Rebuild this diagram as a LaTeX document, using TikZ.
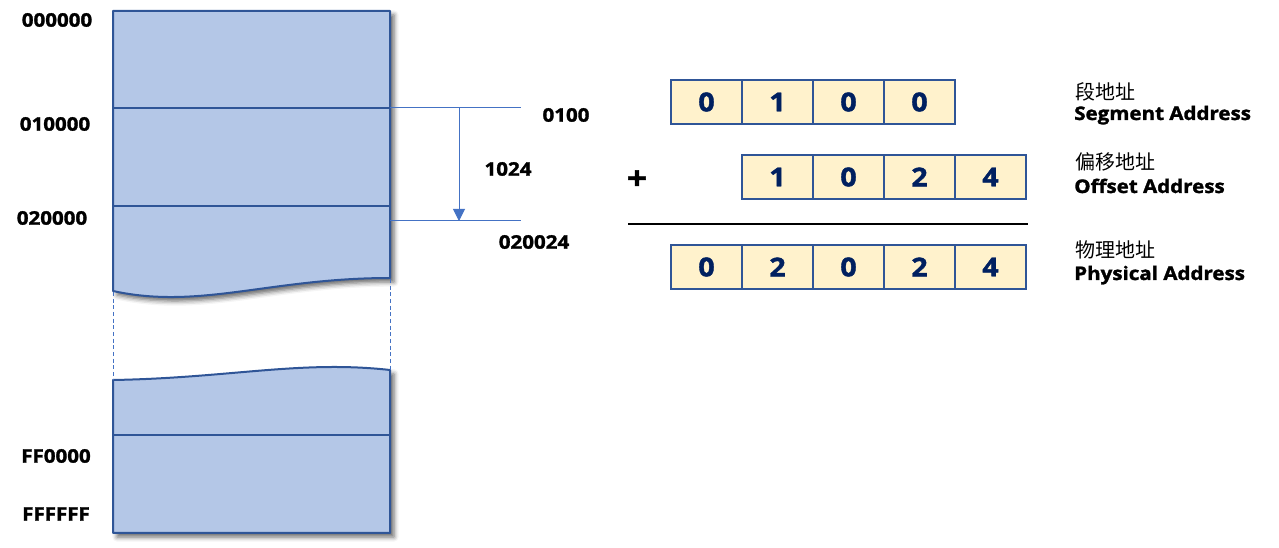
\documentclass[tikz,border=0pt]{standalone}
\usepackage{fontspec}
\setmainfont{Open Sans}[FakeStretch=1.1, BoldFeatures={FakeBold=1.6}]
\newfontfamily\cjk{Noto Sans CJK SC}
\usetikzlibrary{arrows.meta,shadows.blur}
\definecolor{blockfill}{HTML}{B4C7E7}
\definecolor{blockline}{HTML}{2F5597}
\definecolor{guideblue}{HTML}{4472C4}
\definecolor{cellfill}{HTML}{FFF2CC}
\definecolor{digitblue}{HTML}{002060}
\begin{document}
\begin{tikzpicture}[x=0.75pt,y=-0.75pt,
  block/.style={draw=blockline, line width=1.5pt, fill=blockfill, line join=round},
  blockshadow/.style={blur shadow={shadow xshift=3pt, shadow yshift=-3pt, shadow blur radius=3.5pt, shadow opacity=60}},
  divider/.style={draw=blockline, line width=1.5pt},
  guide/.style={draw=guideblue, line width=0.75pt},
  dashguide/.style={draw=guideblue, line width=0.75pt, dash pattern=on 3pt off 2pt},
  cell/.style={draw=blockline, line width=1.5pt, fill=cellfill, minimum width=53.25pt, minimum height=33pt, inner sep=0pt, font=\fontsize{19.5}{19.5}\selectfont\bfseries, text=digitblue},
  addr/.style={font=\fontsize{14}{14}\selectfont\bfseries, inner sep=0pt},
  cn/.style={font=\cjk\fontsize{15}{15}\selectfont, inner sep=0pt, anchor=west},
  en/.style={font=\fontsize{14}{14}\selectfont\bfseries, inner sep=0pt, anchor=base west}
]
\useasboundingbox (0,0) rectangle (1279,548);

% memory blocks
\path[block, blockshadow] (113,11) -- (390,11) -- (390,278) .. controls (270,278) and (200,310) .. (113,291) -- cycle;
\draw[divider] (113,108) -- (390,108);
\draw[divider] (113,206) -- (390,206);

\path[block, blockshadow] (113,380) .. controls (230,378) and (300,360) .. (390,370) -- (390,533) -- (113,533) -- cycle;
\draw[divider] (113,435) -- (390,435);

\coordinate (dl1) at (113,292);
\coordinate (dl2) at (113,380);
\coordinate (dr1) at (390,279);
\coordinate (dr2) at (390,370);
\draw[dashguide] (dl1) -- (dl2);
\draw[dashguide] (dr1) -- (dr2);

% address labels on the left
\node[addr] (a0) at (57,20) {000000};
\node[addr] (a1) at (55,124) {010000};
\node[addr] (a2) at (52,218) {020000};
\node[addr] (a3) at (56,456) {FF0000};
\node[addr] (a4) at (56,514) {FFFFFF};

% offset guides
\coordinate (segR) at (390,108);
\coordinate (segE) at (521,108);
\coordinate (offR) at (390,221);
\coordinate (offE) at (521,221);
\coordinate (arrS) at (459,108);
\coordinate (arrE) at (459,221);
\draw[guide] (segR) -- (segE);
\draw[guide] (offR) -- (offE);
\draw[guide, -{Triangle[width=9pt,length=9pt]}, fill=guideblue] (arrS) -- (arrE);

\node[addr] (l0100) at (566,115) {0100};
\node[addr] (l1024) at (508,169) {1024};
\node[addr] (l020024) at (534,242) {020024};

% segment row
\node[cell] (s1) at (706.5,102) {0};
\node[cell] (s2) at (777.5,102) {1};
\node[cell] (s3) at (848.5,102) {0};
\node[cell] (s4) at (919.5,102) {0};

% offset row
\node[cell] (o1) at (777.5,177) {1};
\node[cell] (o2) at (848.5,177) {0};
\node[cell] (o3) at (919.5,177) {2};
\node[cell] (o4) at (990.5,177) {4};

% physical row
\node[cell] (p1) at (706.5,267) {0};
\node[cell] (p2) at (777.5,267) {2};
\node[cell] (p3) at (848.5,267) {0};
\node[cell] (p4) at (919.5,267) {2};
\node[cell] (p5) at (990.5,267) {4};

\node[font=\fontsize{24}{24}\selectfont\bfseries, inner sep=0pt] (plus) at (637,180) {+};
\coordinate (sumL) at (628,224);
\coordinate (sumR) at (1028,224);
\draw[line width=1.5pt] (sumL) -- (sumR);

% right labels
\node[cn] (c1) at (1075,92) {段地址};
\node[en] (e1) at (1074,120) {Segment Address};
\node[cn] (c2) at (1075,162) {偏移地址};
\node[en] (e2) at (1074,193) {Offset Address};
\node[cn] (c3) at (1075,250) {物理地址};
\node[en] (e3) at (1074,280) {Physical Address};
\end{tikzpicture}
\end{document}
